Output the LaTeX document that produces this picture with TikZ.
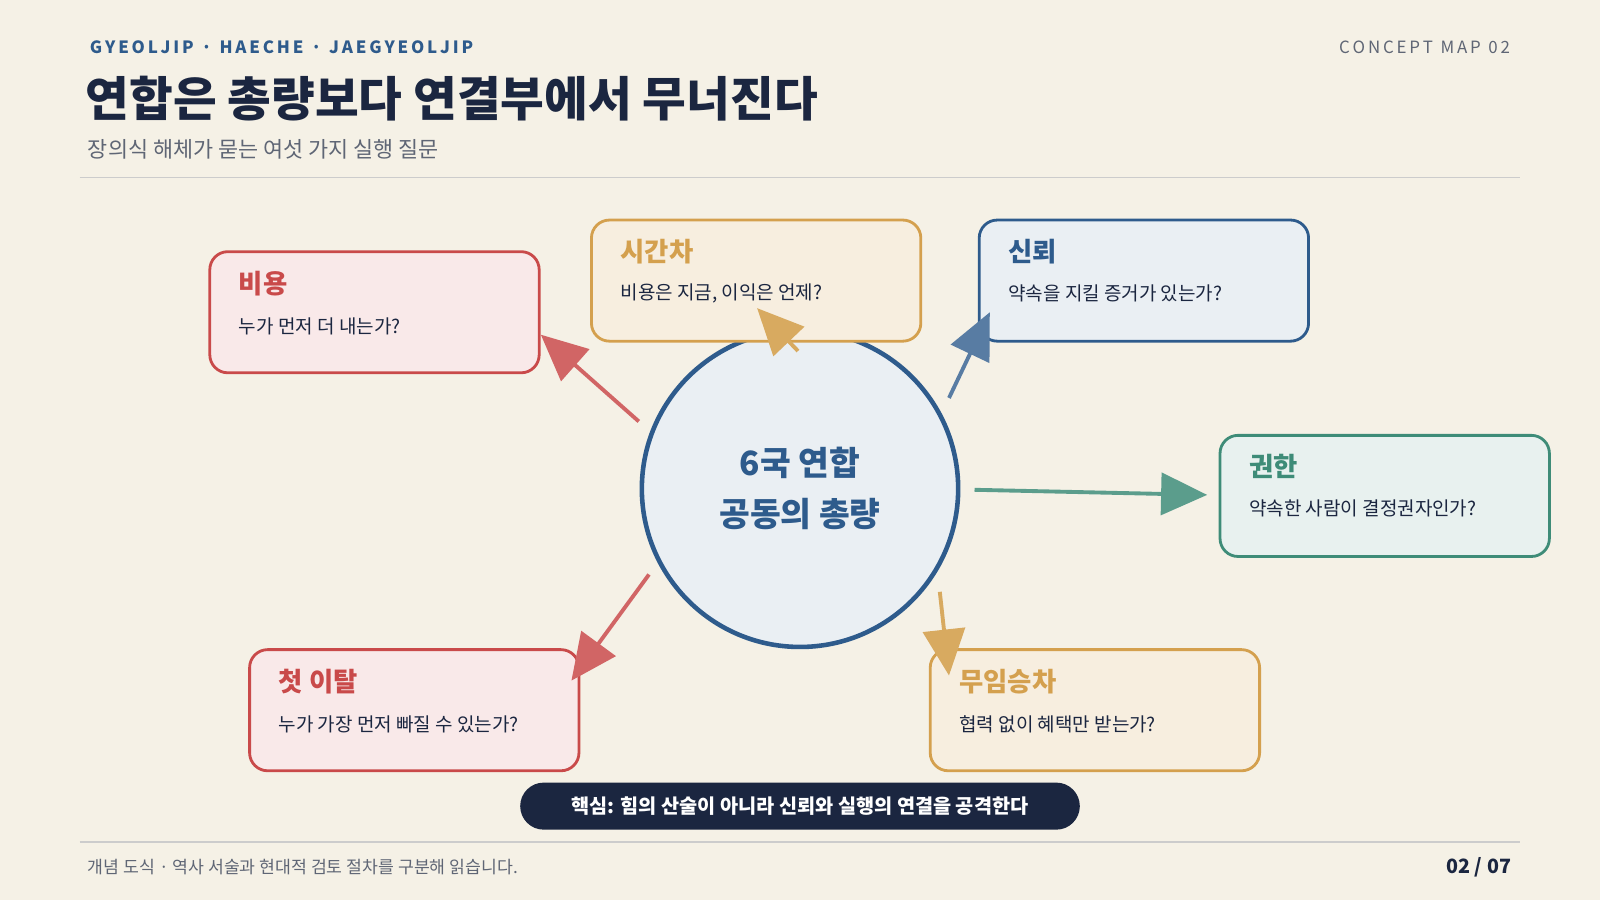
\documentclass[tikz,border=0pt]{standalone}
\usepackage{fontspec}
\setmainfont{Noto Sans CJK KR}
\usepackage{tikz}
\usetikzlibrary{positioning,arrows.meta}

\definecolor{paper}{HTML}{F5F1E6}
\definecolor{navy}{HTML}{1B2640}
\definecolor{mapblue}{HTML}{2E5B8C}
\definecolor{mapred}{HTML}{C94A4A}
\definecolor{mapgold}{HTML}{D4A04E}
\definecolor{mapteal}{HTML}{3E8C78}
\definecolor{mapgray}{HTML}{5F6675}

\tikzset{
	qbox/.style={draw, rounded corners=0.18cm, line width=0.8pt,
		minimum width=3.29cm, minimum height=1.21cm},
	qtitle/.style={anchor=west, font=\fontsize{7.5}{9}\selectfont\bfseries},
	qtext/.style={anchor=west, text=navy, font=\fontsize{5.4}{7}\selectfont},
	link/.style={line width=1.1pt, -{Triangle[length=0.46cm, width=0.42cm]}}
}

\begin{document}
\begin{tikzpicture}[x=0.0102cm, y=-0.0102cm]

% Page
\fill[paper] (0,0) rectangle (1568,882);
\useasboundingbox (0,0) rectangle (1568,882);

% Header
\node[anchor=west, text=mapblue, font=\fontsize{4.8}{6}\selectfont\bfseries] (kicker) at (76,46)
	{G\,Y\,E\,O\,L\,J\,I\,P \ · \ H\,A\,E\,C\,H\,E \ · \ J\,A\,E\,G\,Y\,E\,O\,L\,J\,I\,P};
\node[anchor=east, text=mapgray, font=\fontsize{4.8}{6}\selectfont] (mapno) at (1492,46)
	{C\,O\,N\,C\,E\,P\,T \ M\,A\,P \ 0\,2};
\node[anchor=west, text=navy, font=\fontsize{13.5}{16}\selectfont\bfseries] (title) at (72,97)
	{연합은 총량보다 연결부에서 무너진다};
\node[anchor=west, text=mapgray, font=\fontsize{6.2}{8}\selectfont] (subtitle) at (74,146)
	{장의식 해체가 묻는 여섯 가지 실행 질문};
\draw[black!20, line width=0.5pt] (78,174) -- (1490,174);

% Center
\node[draw=mapblue,
	circle,
	line width=1.3pt,
	fill=mapblue!10,
	minimum size=3.16cm,
	align=center,
	text=mapblue,
	font=\fontsize{9.5}{14.5}\selectfont\bfseries
] (core) at (784,479) {6국 연합\\공동의 총량};

% Question boxes
\node[qbox, draw=mapred, fill=mapred!12] (cost) at (367,306) {};
\node[qtitle, text=mapred] at (222,278) {비용};
\node[qtext] at (222,320) {누가 먼저 더 내는가?};

\node[qbox, draw=mapgold, fill=mapgold!18] (lag) at (741,275) {};
\node[qtitle, text=mapgold] at (596,247) {시간차};
\node[qtext] at (596,288) {비용은 지금, 이익은 언제?};

\node[qbox, draw=mapblue, fill=mapblue!10] (trust) at (1121,275) {};
\node[qtitle, text=mapblue] at (976,247) {신뢰};
\node[qtext] at (976,288) {약속을 지킬 증거가 있는가?};

\node[qbox, draw=mapteal, fill=mapteal!12] (power) at (1357,486) {};
\node[qtitle, text=mapteal] at (1212,457) {권한};
\node[qtext] at (1212,498) {약속한 사람이 결정권자인가?};

\node[qbox, draw=mapred, fill=mapred!12] (exit) at (406,696) {};
\node[qtitle, text=mapred] at (261,668) {첫 이탈};
\node[qtext] at (261,710) {누가 가장 먼저 빠질 수 있는가?};

\node[qbox, draw=mapgold, fill=mapgold!18] (ride) at (1073,696) {};
\node[qtitle, text=mapgold] at (928,668) {무임승차};
\node[qtext] at (928,710) {협력 없이 혜택만 받는가?};

% Links
\coordinate (c1) at (626,413);
\coordinate (c2) at (782,344);
\coordinate (c3) at (930,390);
\coordinate (c4) at (955,480);
\coordinate (c5) at (636,563);
\coordinate (c6) at (921,580);
\coordinate (t1) at (530,328);
\coordinate (t2) at (742,302);
\coordinate (t3) at (970,306);
\coordinate (t4) at (1183,485);
\coordinate (t5) at (560,667);
\coordinate (t6) at (930,662);
\draw[link, mapred!85] (c1) -- (t1);
\draw[link, mapgold!90] (c2) -- (t2);
\draw[link, mapblue!80] (c3) -- (t3);
\draw[link, mapteal!85] (c4) -- (t4);
\draw[link, mapred!85] (c5) -- (t5);
\draw[link, mapgold!90] (c6) -- (t6);

% Key message
\node[fill=navy,
	rounded corners=0.235cm,
	minimum width=5.59cm,
	minimum height=0.47cm,
	text=white,
	font=\fontsize{5.6}{7}\selectfont\bfseries
] (key) at (784,790) {핵심: 힘의 산술이 아니라 신뢰와 실행의 연결을 공격한다};

% Footer
\draw[black!20, line width=0.5pt] (78,825) -- (1490,825);
\node[anchor=west, text=mapgray, font=\fontsize{4.9}{6}\selectfont] (note) at (74,850)
	{개념 도식 · 역사 서술과 현대적 검토 절차를 구분해 읽습니다.};
\node[anchor=east, text=navy, font=\fontsize{5.6}{7}\selectfont\bfseries] (page) at (1493,850) {02 / 07};

\end{tikzpicture}
\end{document}
